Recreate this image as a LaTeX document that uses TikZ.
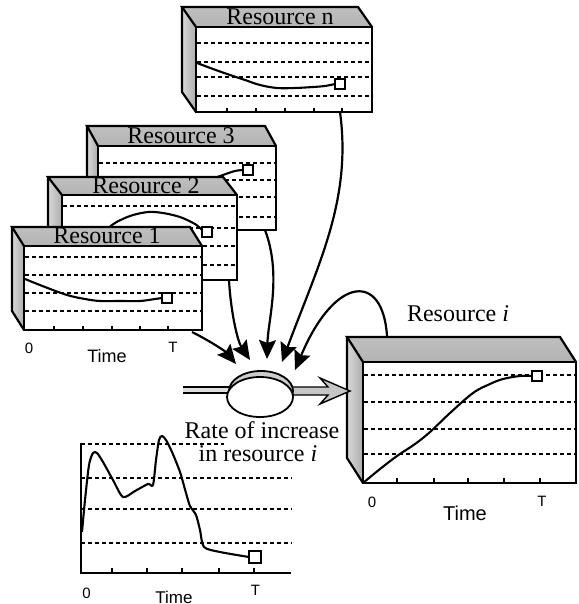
\documentclass[tikz,border=0pt]{standalone}
\usepackage{fontspec}
\setmainfont{Liberation Serif}
\setsansfont{Liberation Sans}
\usetikzlibrary{arrows.meta,shapes.geometric}
\tikzset{
  boxline/.style={line width=2.2pt, line join=miter},
  topface/.style={top color=gray!50, middle color=gray!5, bottom color=gray!60},
  sideface/.style={left color=gray!30, middle color=gray!5, right color=gray!65},
  dashln/.style={dash pattern=on 4pt off 3pt, line width=1.1pt},
  tickln/.style={line width=1.1pt},
  curveln/.style={line width=2.1pt, line join=round},
  sq/.style={draw, fill=white, minimum size=10pt, inner sep=0pt, line width=2pt},
  reslab/.style={font=\fontsize{24}{24}\selectfont, anchor=base, inner sep=0pt},
  axlab/.style={font=\sffamily\fontsize{15}{15}\selectfont, anchor=base, inner sep=0pt},
  timelab/.style={font=\sffamily\fontsize{18}{18}\selectfont, anchor=base, inner sep=0pt},
  conn/.style={line width=2.2pt, -{Stealth[length=19pt,width=17pt,inset=3pt]}},
}
% #1 name, #2 x0, #3 y0, #4 x1, #5 y1, #6 dx, #7 dy
\newcommand\rbox[7]{%
  \node[draw, boxline, fill=white, anchor=north west, minimum width={#4-#2},
        minimum height={#5-#3}, inner sep=0pt, outer sep=0pt] (#1) at (#2,#3) {};
  \coordinate (#1-A) at ({#2+(#6)},{#3+(#7)});
  \coordinate (#1-B) at ({#4+(#6)},{#3+(#7)});
  \coordinate (#1-D) at ({#2+(#6)},{#5+(#7)});
  \shade[topface] (#1.north west) -- (#1-A) -- (#1-B) -- (#1.north east) -- cycle;
  \shade[sideface] (#1.north west) -- (#1-A) -- (#1-D) -- (#1.south west) -- cycle;
  \draw[boxline] (#1.north west) -- (#1-A) -- (#1-B) -- (#1.north east);
  \draw[boxline] (#1-A) -- (#1-D) -- (#1.south west);
  \draw[boxline] (#1.north west) rectangle (#1.south east);
}
\begin{document}
\begin{tikzpicture}[x=1pt,y=-1pt]
\useasboundingbox (0,0) rectangle (578,604);
\clip (0,0) rectangle (578,604);

% ---------- Resource n ----------
\rbox{Rn}{196}{27}{372}{112}{-14}{-20}
\foreach \o in {16,35,50,69}
  \draw[dashln] ([xshift=1pt,yshift=-\o pt]Rn.north west) -- ([xshift=-1pt,yshift=-\o pt]Rn.north east);
\foreach \t in {31,60,89,118,146}
  \draw[tickln] ([xshift=\t pt]Rn.south west) -- ++(0,-4);
\draw[curveln] plot[smooth, tension=0.6] coordinates {(197,63) (213,69) (230,75) (245,80) (260,85) (277,88) (295,88) (313,87) (325,86) (335,84)};
\node[sq] (Rn-sq) at (340,84) {};
\node[reslab] (Rn-lab) at (280,25) {Resource n};

% ---------- Resource 3 ----------
\rbox{R3}{98}{146}{276}{230}{-11}{-20}
\foreach \o in {17,34,51,71}
  \draw[dashln] ([xshift=1pt,yshift=-\o pt]R3.north west) -- ([xshift=-1pt,yshift=-\o pt]R3.north east);
\draw[curveln] plot[smooth] coordinates {(190,190) (210,180) (223,175) (235,171) (243,170)};
\node[sq] (R3-sq) at (248,170) {};
\node[reslab] (R3-lab) at (181,144) {Resource 3};

% ---------- Resource 2 ----------
\rbox{R2}{62}{195}{237}{280}{-14}{-18}
\foreach \o in {11,33,51,70}
  \draw[dashln] ([xshift=1pt,yshift=-\o pt]R2.north west) -- ([xshift=-1pt,yshift=-\o pt]R2.north east);
\draw[curveln] plot[smooth] coordinates {(100,240) (112,225) (130,216) (148,212) (163,213) (180,217) (195,224) (202,230)};
\node[sq] (R2-sq) at (207,232) {};
\node[reslab] (R2-lab) at (146,193) {Resource 2};

% ---------- Resource 1 ----------
\rbox{R1}{24}{246}{202}{330}{-12}{-19}
\foreach \o in {11,29,47,65}
  \draw[dashln] ([xshift=1pt,yshift=-\o pt]R1.north west) -- ([xshift=-1pt,yshift=-\o pt]R1.north east);
\foreach \t in {30,59,88,116,144}
  \draw[tickln] ([xshift=\t pt]R1.south west) -- ++(0,-4);
\draw[curveln] plot[smooth, tension=0.6] coordinates {(25,279) (45,287) (67,295) (85,299) (100,301) (120,301) (140,301) (155,299) (162,298)};
\node[sq] (R1-sq) at (167,298) {};
\node[reslab] (R1-lab) at (107,243) {Resource 1};
\node[axlab] (R1-0) at (29,353) {0};
\node[axlab] (R1-T) at (173,352) {T};
\node[timelab] (R1-time) at (107,362) {Time};

% ---------- Resource i ----------
\rbox{Ri}{363}{362}{576}{483}{-16}{-25}
\foreach \o in {13,40,67,92}
  \draw[dashln] ([xshift=1pt,yshift=-\o pt]Ri.north west) -- ([xshift=-1pt,yshift=-\o pt]Ri.north east);
\foreach \t in {34,71,105,141,177}
  \draw[tickln] ([xshift=\t pt]Ri.south west) -- ++(0,-5);
\draw[curveln] plot[smooth, tension=0.6] coordinates {(363,483) (380,469) (397,456) (415,444) (430,432) (450,413) (473,393) (490,384) (503,379) (520,376) (532,376)};
\node[sq] (Ri-sq) at (537,376) {};
\node[reslab] (Ri-lab) at (458,321) {Resource \textit{i}};
\node[axlab] (Ri-0) at (372,507) {0};
\node[axlab] (Ri-T) at (542,506) {T};
\node[timelab, font=\sffamily\fontsize{20}{20}\selectfont] (Ri-time) at (465,520) {Time};
\coordinate (Ri-top) at (387,336);

% ---------- valve ----------
\fill[gray!25] (183,387) rectangle (240,393);
\draw[line width=1.4pt] (183,387) -- (240,387) (183,393) -- (240,393);
\draw[line width=1.4pt, fill=gray!45] (284,387) -- (328,387) -- (320,378) -- (350,391) -- (320,404) -- (328,395) -- (284,395) -- cycle;
\draw[line width=1.8pt, fill=gray!40] (261,391) ellipse [x radius=32, y radius=20];
\node[ellipse, draw, fill=white, line width=1.8pt, minimum width=66pt, minimum height=40pt, inner sep=0pt] (valve) at (260,397) {};

% ---------- connectors ----------
\coordinate (in1) at (236,364);
\coordinate (in2) at (250,360);
\coordinate (in3) at (267,359);
\coordinate (in4) at (282,362);
\coordinate (in5) at (295,370);
\draw[conn] ([xshift=-10pt,yshift=-2pt]R1.south east) .. controls (212,342) and (226,352) .. (in1);
\draw[conn] ([xshift=-8pt]R2.south east) .. controls (231,315) and (238,342) .. (in2);
\draw[conn] ([xshift=-11pt]R3.south east) .. controls (282,275) and (268,320) .. (in3);
\draw[conn] ([xshift=-32pt]Rn.south east) .. controls (352,200) and (318,265) .. (in4);
\draw[conn] (Ri-top) .. controls (383,272) and (335,275) .. (in5);

\node[reslab] (rate1) at (262,438) {Rate of increase};
\node[reslab] (rate2) at (258,461) {in resource \textit{i}};

% ---------- rate graph ----------
\draw[dashln] (81,444) -- (224,444);
\foreach \y in {478,509,543}
  \draw[dashln] (81,\y) -- (292,\y);
\foreach \x in {112,147,182,219,254}
  \draw[tickln] (\x,573) -- ++(0,-5);
\draw[line width=2.2pt] (81,443) -- (81,573) -- (291,573);
\draw[curveln] plot[smooth, tension=0.45] coordinates {(82,532) (85,500) (89,465) (93,453) (97,453) (103,462) (113,480) (123,497) (135,491) (148,484) (153,485) (156,460) (159,440) (162,436) (166,440) (172,452) (180,472) (186,493) (190,506) (196,515) (200,530) (204,547) (220,552) (249,557)};
\node[sq, minimum size=12pt] (g-sq) at (255,557) {};
\node[axlab] (g-0) at (86.5,598) {0};
\node[axlab] (g-T) at (255.5,595) {T};
\node[timelab, font=\sffamily\fontsize{17}{17}\selectfont] (g-time) at (174,603) {Time};
\end{tikzpicture}
\end{document}
